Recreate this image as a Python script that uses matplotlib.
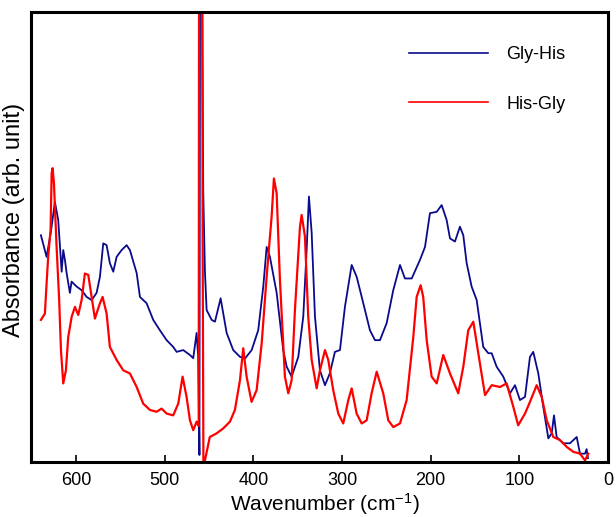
import matplotlib
matplotlib.use("Agg")
import matplotlib.pyplot as plt
import numpy as np

plt.rcParams["font.family"] = ["Liberation Sans", "DejaVu Sans"]
plt.rcParams["mathtext.default"] = "regular"

# Gly-His (blue)
wn_gh = [639.6, 633.2, 628.3, 623.8, 620.1, 616.2, 614.4, 612.5, 610.6, 606.9, 605.0, 599.3,
         593.7, 588.0, 582.4, 576.8, 573.0, 569.3, 565.5, 561.8, 558.0, 554.2, 548.6, 542.9,
         539.2, 531.6, 527.9, 520.4, 512.9, 505.4, 497.8, 490.4, 486.5, 479.1, 471.5, 467.8,
         464.0, 462.2, 460.8, 460.0, 458.3, 456.5, 454.6, 452.7, 447.0, 443.3, 436.9, 434.0,
         430.1, 422.7, 415.1, 409.5, 401.9, 394.5, 388.8, 385.0, 381.3, 373.7, 366.3, 362.4,
         356.8, 349.3, 343.7, 339.9, 337.3, 334.2, 330.5, 324.9, 319.2, 313.6, 308.0, 302.3,
         296.7, 289.1, 283.5, 276.0, 268.5, 262.8, 257.2, 249.6, 242.2, 234.6, 229.0, 221.4,
         212.1, 206.4, 200.8, 193.2, 187.6, 182.0, 178.2, 172.6, 167.0, 163.2, 159.4, 153.8,
         148.1, 144.4, 140.7, 135.0, 131.2, 125.6, 118.1, 110.5, 104.9, 99.3, 93.6, 88.0,
         84.3, 78.6, 73.0, 67.3, 63.5, 60.9, 57.9, 50.4, 42.9, 35.3, 31.6, 25.9, 24.1, 22.6]
ab_gh = [0.504, 0.456, 0.512, 0.578, 0.538, 0.423, 0.471, 0.449, 0.420, 0.376, 0.401, 0.390,
         0.382, 0.367, 0.360, 0.376, 0.412, 0.486, 0.482, 0.442, 0.423, 0.456, 0.471, 0.482,
         0.471, 0.420, 0.367, 0.353, 0.316, 0.293, 0.271, 0.256, 0.245, 0.249, 0.238, 0.231,
         0.287, 0.234, 0.016, 1.200, 1.200, 0.600, 0.423, 0.338, 0.316, 0.312, 0.364, 0.331,
         0.287, 0.249, 0.234, 0.230, 0.249, 0.293, 0.390, 0.478, 0.456, 0.376, 0.249, 0.212,
         0.190, 0.234, 0.323, 0.471, 0.590, 0.509, 0.323, 0.204, 0.171, 0.198, 0.245, 0.249,
         0.345, 0.438, 0.412, 0.353, 0.293, 0.271, 0.271, 0.309, 0.382, 0.438, 0.408, 0.408,
         0.449, 0.478, 0.553, 0.556, 0.571, 0.538, 0.497, 0.490, 0.523, 0.504, 0.442, 0.390,
         0.360, 0.308, 0.256, 0.242, 0.242, 0.212, 0.190, 0.153, 0.171, 0.138, 0.145, 0.234,
         0.245, 0.197, 0.123, 0.053, 0.064, 0.104, 0.056, 0.042, 0.042, 0.056, 0.019, 0.019,
         0.029, 0.009]

# His-Gly (red)
wn_hg = [639.6, 635.1, 633.2, 631.4, 628.7, 627.5, 626.4, 624.9, 621.9, 619.0, 617.0, 614.4,
         611.4, 608.8, 604.9, 601.2, 597.5, 593.7, 590.0, 586.2, 582.4, 578.7, 573.0, 570.0,
         565.5, 561.8, 554.2, 546.7, 539.2, 531.6, 524.2, 516.6, 509.1, 503.5, 497.8, 490.4,
         484.7, 479.8, 475.3, 471.5, 467.8, 464.0, 461.6, 461.2, 457.6, 457.2, 456.3, 454.6,
         449.1, 441.5, 434.0, 426.4, 420.8, 415.1, 411.4, 407.6, 402.0, 396.3, 390.6, 385.0,
         379.4, 376.8, 373.7, 370.0, 364.4, 360.6, 356.8, 353.1, 347.4, 345.5, 341.8, 338.1,
         334.2, 328.6, 324.9, 319.2, 315.5, 309.9, 304.2, 298.6, 292.9, 289.1, 283.5, 277.8,
         272.2, 266.6, 260.9, 253.5, 247.8, 242.2, 234.6, 227.1, 219.6, 215.8, 211.3, 208.4,
         204.5, 198.9, 193.2, 185.8, 178.2, 168.9, 163.2, 157.6, 151.9, 146.3, 138.7, 131.2,
         121.8, 114.3, 106.8, 101.3, 93.6, 88.0, 80.4, 74.8, 69.1, 61.7, 54.1, 46.6,
         39.1, 31.6, 25.9, 22.2]
ab_hg = [0.316, 0.330, 0.397, 0.456, 0.516, 0.642, 0.653, 0.619, 0.478, 0.360, 0.249, 0.175,
         0.204, 0.278, 0.323, 0.345, 0.327, 0.360, 0.419, 0.416, 0.367, 0.319, 0.353, 0.367,
         0.330, 0.256, 0.227, 0.204, 0.197, 0.167, 0.130, 0.116, 0.112, 0.119, 0.108, 0.104,
         0.130, 0.190, 0.145, 0.093, 0.071, 0.090, 0.080, 1.200, 1.200, 0.500, -0.010, 0.004,
         0.056, 0.064, 0.075, 0.090, 0.116, 0.182, 0.253, 0.190, 0.134, 0.160, 0.264, 0.412,
         0.545, 0.630, 0.597, 0.404, 0.190, 0.153, 0.182, 0.338, 0.523, 0.549, 0.501, 0.323,
         0.227, 0.164, 0.204, 0.249, 0.227, 0.160, 0.108, 0.086, 0.138, 0.164, 0.108, 0.086,
         0.093, 0.153, 0.201, 0.153, 0.093, 0.078, 0.086, 0.138, 0.278, 0.367, 0.393, 0.367,
         0.271, 0.190, 0.175, 0.238, 0.197, 0.153, 0.212, 0.293, 0.312, 0.242, 0.149, 0.171,
         0.167, 0.175, 0.123, 0.082, 0.108, 0.134, 0.171, 0.145, 0.093, 0.056, 0.049, 0.034,
         0.023, 0.019, 0.004, 0.019]

xticks = [600, 500, 400, 300, 200, 100, 0]

fig = plt.figure(figsize=(6.16, 5.17), dpi=100)
ax = fig.add_axes([0.050, 0.106, 0.937, 0.871])

ax.plot(wn_gh, ab_gh, color="#0a0a8c", lw=1.3, label="Gly-His")
ax.plot(wn_hg, ab_hg, color="#ff0000", lw=1.6, label="His-Gly")

ax.set_xlim(651, 0)
ax.set_ylim(0, 1.0)
ax.set_xticks(xticks)
ax.set_yticks([])
ax.tick_params(axis="x", direction="in", length=5, width=1.2, labelsize=13, pad=7)
for s in ax.spines.values():
    s.set_linewidth(2.2)

ax.set_xlabel("Wavenumber (cm$^{-1}$)", fontsize=15)
ax.xaxis.set_label_coords(0.51, -0.064)
ax.set_ylabel("Absorbance (arb. unit)", fontsize=17)
ax.yaxis.set_label_coords(-0.010, 0.538)

leg = ax.legend(loc="upper left", bbox_to_anchor=(0.655, 0.924), frameon=False, fontsize=13,
                borderpad=0, borderaxespad=0,
                handlelength=4.4, handletextpad=1.0, labelspacing=1.8)
for l in leg.get_lines():
    l.set_linewidth(1.2)

fig.savefig("out.png", dpi=100)
